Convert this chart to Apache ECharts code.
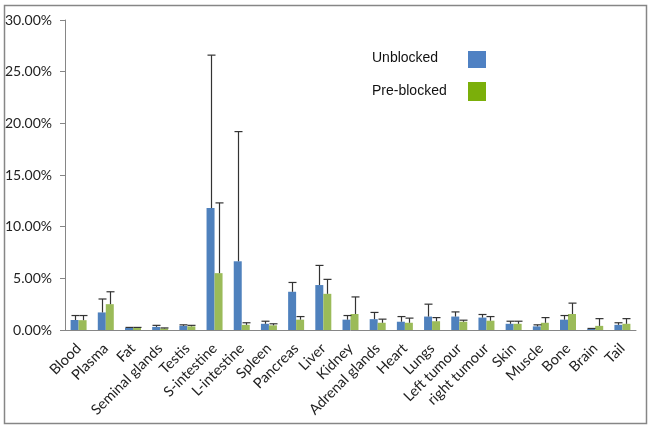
<!DOCTYPE html>
<html><head><meta charset="utf-8">
<script src="https://cdn.jsdelivr.net/npm/echarts@6/dist/echarts.min.js"></script>
<style>html,body{margin:0;padding:0;background:#fff}#c{width:650px;height:427px}</style>
</head><body><div id="c"></div>
<script>
const categories = ['Blood','Plasma','Fat','Seminal glands','Testis','S-intestine','L-intestine','Spleen','Pancreas','Liver','Kidney','Adrenal glands','Heart','Lungs','Left tumour','right tumour','Skin','Muscle','Bone','Brain','Tail'];
const unblocked    = [0.97, 1.7, 0.2, 0.3, 0.4, 11.8, 6.65, 0.6, 3.7, 4.35, 1.0, 1.05, 0.8, 1.3, 1.3, 1.2, 0.6, 0.35, 1.0, 0.1, 0.5];
const unblockedTop = [1.4, 3.0, 0.25, 0.45, 0.5, 26.6, 19.2, 0.85, 4.6, 6.25, 1.4, 1.7, 1.3, 2.5, 1.75, 1.5, 0.85, 0.5, 1.4, 0.15, 0.7];
const preblocked    = [0.95, 2.5, 0.2, 0.15, 0.35, 5.5, 0.5, 0.45, 1.0, 3.5, 1.55, 0.7, 0.7, 0.85, 0.8, 0.9, 0.6, 0.7, 1.55, 0.4, 0.6];
const preblockedTop = [1.4, 3.7, 0.25, 0.2, 0.45, 12.3, 0.7, 0.6, 1.3, 4.9, 3.2, 1.05, 1.15, 1.2, 0.95, 1.3, 0.85, 1.2, 2.6, 1.1, 1.1];
const yTicks = [0, 5, 10, 15, 20, 25, 30];

const BW = 8;
function errSeries(vals, tops, dx) {
  return {
    type: 'custom', z: 5,
    data: vals.map((v, i) => [i, v, tops[i]]),
    renderItem: function (params, api) {
      const lo = api.coord([api.value(0), api.value(1)]);
      const hi = api.coord([api.value(0), api.value(2)]);
      const x = Math.round(lo[0] + dx) + 0.5;
      const st = { stroke: '#333', lineWidth: 1.2 };
      return { type: 'group', children: [
        { type: 'line', shape: { x1: x, y1: lo[1], x2: x, y2: hi[1] }, style: st },
        { type: 'line', shape: { x1: x - 4, y1: hi[1], x2: x + 4, y2: hi[1] }, style: st }
      ]};
    }
  };
}
const chart = echarts.init(document.getElementById('c'));
chart.setOption({
  animation: false,
  grid: { left: 65, right: 14, top: 20, bottom: 97 },
  xAxis: {
    type: 'category', data: categories,
    axisLine: { lineStyle: { color: '#868686' } },
    axisTick: { alignWithLabel: false, length: 5, lineStyle: { color: '#868686' } },
    axisLabel: { rotate: 45, interval: 0, fontFamily: 'Lato', fontSize: 14.5, color: '#222', margin: 16 }
  },
  yAxis: {
    type: 'value', min: 0, max: 30, interval: 5,
    splitLine: { show: false },
    axisLine: { show: true, lineStyle: { color: '#868686' } },
    axisTick: { show: true, length: 5, lineStyle: { color: '#868686' } },
    axisLabel: { fontFamily: 'Lato', fontSize: 14, color: '#222', margin: 13,
      formatter: v => yTicks.includes(v) ? v.toFixed(2) + '%' : '' }
  },
  series: [
    { name: 'Unblocked', type: 'bar', data: unblocked, barWidth: BW, barGap: '0%', itemStyle: { color: '#4F81BD' } },
    { name: 'Pre-blocked', type: 'bar', data: preblocked, barWidth: BW, barGap: '0%', itemStyle: { color: '#9BBB59' } },
    errSeries(unblocked, unblockedTop, -BW / 2),
    errSeries(preblocked, preblockedTop, BW / 2)
  ],
  graphic: [
    { type: 'rect', shape: { x: 4.5, y: 5.5, width: 642, height: 418 }, style: { fill: 'none', stroke: '#868686', lineWidth: 1.5 }, z: -1 },
    { type: 'text', left: 372, top: 51, style: { text: 'Unblocked', font: '14px "Liberation Sans", Arial', fill: '#111' } },
    { type: 'rect', shape: { x: 468, y: 51, width: 18, height: 17 }, style: { fill: '#4F81C3' } },
    { type: 'text', left: 372, top: 84, style: { text: 'Pre-blocked', font: '14px "Liberation Sans", Arial', fill: '#111' } },
    { type: 'rect', shape: { x: 468, y: 82, width: 18, height: 19 }, style: { fill: '#7BAF0A' } }
  ]
});
</script></body></html>
